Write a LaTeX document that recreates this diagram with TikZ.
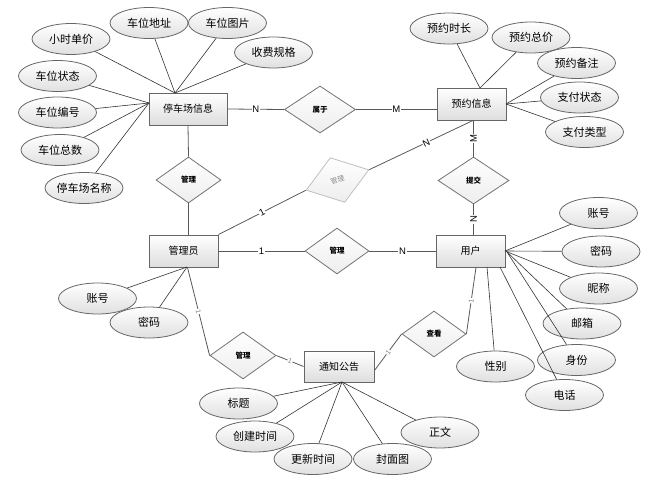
\documentclass[tikz,border=0pt]{standalone}
\usepackage{fontspec}
\setmainfont{Liberation Sans}
\newfontfamily\cjk{Noto Sans CJK SC}
\usetikzlibrary{shapes.geometric}
\tikzset{
  ent/.style={rectangle, draw=black!60, line width=0.9pt, top color=white, bottom color=black!13,
    minimum width=69pt, minimum height=32pt, inner sep=0pt, font=\cjk\fontsize{10}{12}\selectfont},
  attr/.style={ellipse, draw=black!60, line width=0.8pt, top color=white, bottom color=black!12,
    minimum width=78pt, minimum height=31pt, inner sep=0pt, font=\cjk\fontsize{11}{13}\selectfont},
  rel/.style={diamond, draw=black!55, line width=0.8pt, top color=white, bottom color=black!7,
    minimum width=66pt, minimum height=47pt, inner sep=0pt, font=\cjk\bfseries\fontsize{7.5}{8}\selectfont},
  grel/.style={rel, draw=black!25, text=black!45, font=\cjk\fontsize{7}{8}\selectfont},
  conn/.style={draw=black!65, line width=0.8pt},
  aconn/.style={draw=black!80, line width=0.6pt},
  card/.style={fill=white, inner sep=0.6pt, font=\fontsize{9.5}{10}\selectfont},
  gcard/.style={card, text=black!50, font=\fontsize{7}{7}\selectfont},
}
\begin{document}
\begin{tikzpicture}[x=1pt,y=-1pt]
\useasboundingbox (0,0) rectangle (656,490);
% entities
\node[ent, minimum width=78pt] (pk) at (188,109) {停车场信息};
\node[ent] (yy) at (471.5,104) {预约信息};
\node[ent] (adm) at (183.5,251) {管理员};
\node[ent] (yh) at (470.5,251) {用户};
\node[ent, minimum width=70pt, minimum height=31pt] (tz) at (339,366.5) {通知公告};
% relationships
\node[rel, minimum width=71pt] (sy) at (320,109.5) {属于};
\node[rel, minimum width=65pt, minimum height=46pt] (gl1) at (188.5,180) {管理};
\node[grel, rotate=18] (gl2) at (337.5,180) {管理};
\node[rel, minimum width=71pt] (tj) at (473.5,180.5) {提交};
\node[rel, minimum width=64pt, minimum height=46pt] (gl3) at (337,251) {管理};
\node[rel] (gl4) at (243,355.5) {管理};
\node[rel, minimum width=64pt, minimum height=46pt] (ck) at (434,334) {查看};
% relationship connectors
\draw[conn] (pk.east) -- node[card]{N} (sy.west);
\draw[conn] (sy.east) -- node[card]{M} (sy.east -| yy.west);
\draw[conn] (pk.south) -- (gl1.north);
\draw[conn] (gl1.south) -- (gl1.south |- adm.north);
\draw[conn] (adm.north east) -- node[card, sloped]{1} (gl2.west);
\draw[conn] (gl2.east) -- node[card, sloped, pos=0.55]{N} ([xshift=1.5pt]yy.south);
\draw[conn] ([xshift=2pt]yy.south) -- node[card, rotate=90]{M} (tj.north);
\draw[conn] (tj.south) -- node[card, rotate=90]{N} (tj.south |- yh.north);
\draw[conn] (adm.east) -- node[card]{1} (gl3.west);
\draw[conn] (gl3.east) -- node[card, pos=0.5]{N} (yh.west);
\draw[conn] ([xshift=4pt]adm.south) -- node[gcard, sloped]{1} (gl4.west);
\draw[conn] (gl4.east) -- node[gcard, sloped]{1} ([yshift=0pt]tz.west);
\draw[conn] ([yshift=-4pt]tz.east) -- node[gcard, sloped]{1} (ck.west);
\draw[conn] (ck.east) -- node[gcard, sloped]{1} ([xshift=5.5pt]yh.south);
% hubs
\coordinate (pkT) at (175,93);
\coordinate (pkL) at (149,103);
\coordinate (yyT) at (480,88);
\coordinate (yyR) at (506,104);
\coordinate (yhR) at (505,251);
\coordinate (yhR2) at (507,252);
\coordinate (yhB1) at (500,267);
\coordinate (yhB2) at (487,267);
\coordinate (admB) at (187,267);
\coordinate (tzB) at (342,382);
% attributes of 停车场信息
\node[attr] (a1) at (71,39) {小时单价};
\node[attr] (a2) at (149,23) {车位地址};
\node[attr] (a3) at (227.5,23) {车位图片};
\node[attr] (a4) at (273.5,52.5) {收费规格};
\node[attr] (a5) at (57.5,76) {车位状态};
\node[attr] (a6) at (57.5,112.5) {车位编号};
\node[attr] (a7) at (60,150) {车位总数};
\node[attr] (a8) at (84,188) {停车场名称};
\foreach \a in {a1,a2,a3,a4} \draw[aconn] (pkT) -- (\a);
\foreach \a in {a5,a6,a7,a8} \draw[aconn] (pkL) -- (\a);
% attributes of 预约信息
\node[attr] (b1) at (449,28.5) {预约时长};
\node[attr] (b2) at (531,37.5) {预约总价};
\node[attr] (b3) at (576.5,63) {预约备注};
\node[attr] (b4) at (579.5,97.5) {支付状态};
\node[attr] (b5) at (584.5,132) {支付类型};
\foreach \a in {b1,b2} \draw[aconn] (yyT) -- (\a);
\foreach \a in {b3,b4,b5} \draw[aconn] (yyR) -- (\a);
% attributes of 用户
\node[attr] (c1) at (598.5,213) {账号};
\node[attr] (c2) at (601,251.5) {密码};
\node[attr] (c3) at (598.5,288.5) {昵称};
\node[attr] (c4) at (582,323.5) {邮箱};
\node[attr] (c5) at (576.5,360) {身份};
\node[attr] (c6) at (564.5,395) {电话};
\node[attr] (c7) at (495.5,366.5) {性别};
\foreach \a in {c1,c2,c3} \draw[aconn] (yhR) -- (\a);
\foreach \a in {c4,c5} \draw[aconn] (yhR2) -- (\a);
\draw[aconn] (yhB1) -- (c6);
\draw[aconn] (yhB2) -- (c7);
% attributes of 管理员
\node[attr] (d1) at (97.5,298.5) {账号};
\node[attr] (d2) at (149,322.5) {密码};
\foreach \a in {d1,d2} \draw[aconn] (admB) -- (\a);
% attributes of 通知公告
\node[attr] (e1) at (238.5,403.5) {标题};
\node[attr] (e2) at (255,436.5) {创建时间};
\node[attr] (e3) at (313,459) {更新时间};
\node[attr] (e4) at (392.5,459) {封面图};
\node[attr] (e5) at (440,432.5) {正文};
\foreach \a in {e1,e2,e3,e4,e5} \draw[aconn] (tzB) -- (\a);
\end{tikzpicture}
\end{document}
